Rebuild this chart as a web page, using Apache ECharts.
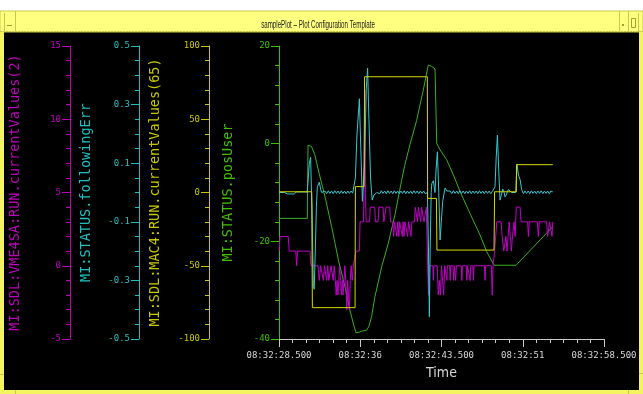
<!DOCTYPE html>
<html><head><meta charset="utf-8">
<script src="https://cdn.jsdelivr.net/npm/echarts@6.0.0/dist/echarts.min.js"></script>
<style>html,body{margin:0;padding:0;background:#fff;overflow:hidden}#c{width:643px;height:394px}</style>
</head><body><div id="c"></div><script>
// time offsets in seconds from 08:32:28.500
const xTickLabels = ['08:32:28.500', '08:32:36', '08:32:43.500', '08:32:51', '08:32:58.500'];
const xStep = 7.5;

// MI:STATUS.posUser (green, left main axis)
const posUser = [[0,-15.3],[2.61,-15.3],[2.68,-0.3],[3.0,-0.6],[3.3,-2.2],[3.63,-5.4],[4.25,-10.9],[4.86,-17.0],[5.48,-23.8],[6.09,-29.3],[6.55,-34.1],[6.9,-37.2],[7.11,-38.7],[7.4,-38.6],[7.63,-38.4],[8.09,-38.2],[8.3,-37.4],[8.55,-35.4],[8.86,-31.3],[9.48,-25.2],[10.09,-20.4],[10.71,-14.5],[11.32,-7.5],[11.6,-4.5],[12.09,-0.2],[12.71,4.8],[13.32,11.0],[13.78,16.1],[14.1,15.8],[14.4,15.3],[14.5,15.2],[14.56,0.1],[14.87,-1.3],[15.48,-3.3],[16.1,-6.4],[16.71,-9.8],[17.63,-14.3],[18.56,-18.7],[19.17,-22.1],[19.85,-24.9],[21.88,-24.9],[25.27,-17.0]];

// MI:SDL:MAC4:RUN.currentValues(65) (yellow)
const mac4 = [[0,0.5],[3.02,0.5],[3.08,-78.6],[7.02,-78.6],[7.05,4],[7.85,4],[7.9,79],[13.69,79],[13.72,-4],[14.53,-4],[14.58,-39.3],[19.85,-39.3],[19.9,0.5],[21.9,0.5],[21.93,19],[25.27,19]];

// MI:STATUS.followingErr (cyan)
const followingErr = [[0,0.0],[0.5,0.0],[0.8,-0.005],[1.4,-0.005],[1.6,0.002],[2.6,0.002],[2.66,0.03],[2.8,0.1],[2.92,0.12],[3.0,0.0],[3.05,-0.05],[3.17,-0.32],[3.25,-0.33],[3.35,-0.2],[3.45,-0.05],[3.54,0.02],[3.72,0.035],[3.85,0.01],[3.94,0.0],[4.1,-0.004],
[4.25,0.005],[4.4,-0.004],[4.55,0.006],[4.7,-0.003],[4.85,0.005],[5.0,-0.004],[5.15,0.006],[5.3,-0.003],[5.45,0.005],[5.6,-0.004],[5.75,0.006],[5.9,-0.003],[6.05,0.005],[6.2,-0.004],[6.35,0.005],[6.5,-0.003],[6.65,0.005],[6.8,-0.002],[6.92,0.0],
[7.05,0.05],[7.2,0.2],[7.42,0.32],[7.55,0.15],[7.7,-0.03],[7.78,-0.036],[7.9,0.1],[8.05,0.35],[8.18,0.425],[8.3,0.25],[8.45,0.05],[8.6,-0.026],[8.75,-0.01],[9.02,0.0],
[9.15,0.005],[9.3,-0.004],[9.45,0.006],[9.6,-0.003],[9.75,0.005],[9.9,-0.004],[10.05,0.006],[10.2,-0.003],[10.35,0.005],[10.5,-0.004],[10.65,0.006],[10.8,-0.003],[10.95,0.005],[11.1,-0.004],[11.25,0.005],[11.4,-0.003],[11.55,0.006],[11.7,-0.004],[11.85,0.005],[12.0,-0.003],[12.15,0.005],[12.3,-0.004],[12.45,0.006],[12.6,-0.003],[12.75,0.005],[12.9,-0.004],[13.05,0.005],[13.2,-0.003],[13.35,0.005],[13.5,-0.004],[13.62,0.0],
[13.7,0.0],[13.8,-0.2],[13.88,-0.424],[13.95,-0.2],[14.05,0.0],[14.1,0.03],[14.25,0.04],[14.4,0.0],[14.5,0.08],[14.62,0.139],[14.75,0.0],[14.87,-0.162],[14.98,-0.1],[15.11,-0.03],[15.33,0.015],[15.5,0.005],[15.64,0.0],
[15.8,0.005],[15.95,-0.004],[16.1,0.006],[16.25,-0.003],[16.4,0.005],[16.55,-0.004],[16.7,0.006],[16.85,-0.003],[17.0,0.005],[17.15,-0.004],[17.3,0.005],[17.45,-0.003],[17.6,0.006],[17.75,-0.004],[17.9,0.005],[18.05,-0.003],[18.2,0.005],[18.35,-0.004],[18.5,0.006],[18.65,-0.003],[18.8,0.005],[18.95,-0.004],[19.1,0.005],[19.25,-0.003],[19.4,0.005],[19.55,-0.004],[19.7,0.004],[19.85,0.0],
[19.94,0.02],[20.05,0.12],[20.16,0.196],[20.28,0.08],[20.4,-0.026],[20.52,-0.01],[20.65,0.012],[20.78,0.0],[20.87,-0.015],[21.02,-0.005],[21.17,0.01],[21.35,0.004],[21.48,0.0],[21.85,0.0],[21.97,0.096],[22.1,0.06],[22.25,0.045],[22.4,0.01],[22.56,-0.004],
[22.7,0.005],[22.85,-0.003],[23.0,0.005],[23.15,-0.004],[23.3,0.006],[23.45,-0.003],[23.6,0.005],[23.75,-0.004],[23.9,0.005],[24.05,-0.003],[24.2,0.006],[24.35,-0.004],[24.5,0.005],[24.65,-0.003],[24.8,0.005],[24.95,-0.004],[25.1,0.005],[25.27,0.002]];

// MI:SDL:VME4SA:RUN.currentValues(2) (magenta)
const vme4sa = [[0,1],[0.1,2],[0.85,2],[0.95,1],[1.55,1],[1.63,0],[1.7,1],[2.86,1],[2.95,0],
[3.6,0],[3.72,-1],[3.84,0],[4.0,0],[4.1,-1],[4.2,0],[4.4,-1],[4.5,0],[4.6,-1],[4.72,-1],[4.8,0],[5.0,-1],[5.1,0],[5.2,-1],[5.28,-2],[5.36,-1],[5.44,-2],[5.52,-1],[5.6,0],[5.68,-1],[5.76,-2],[5.84,-1],[5.92,-2],[6.0,-1],[6.08,0],[6.16,-1],[6.26,-3],[6.34,-1],[6.42,-2],[6.5,-3],[6.58,-1],[6.66,0],[6.76,-1],[6.86,0],[7.0,0],
[7.1,1],[7.42,1],[7.48,3],[7.8,3],[7.86,6],[7.92,12],[7.98,5],[8.04,3],[8.36,3],[8.42,4],[8.84,4],[8.9,3],[9.15,3],[9.22,4],[9.6,4],[9.68,3],[9.8,3],[9.88,4],[10.22,4],[10.3,3],
[10.5,3],[10.58,2],[10.66,3],[10.8,3],[10.88,2],[10.96,3],[11.06,2],[11.14,3],[11.3,3],[11.38,2],[11.46,3],[11.54,2],[11.62,3],[11.8,3],[11.88,2],[11.96,3],[12.1,3],[12.18,2],[12.26,3],[12.5,3],[12.58,4],[12.7,4],[12.78,3],[12.86,4],[13.0,4],[13.08,3],[13.16,4],[13.3,4],[13.38,3],[13.5,3],[13.6,4],[13.68,4],[13.72,0],[13.8,-2],[13.86,0],
[14.2,0],[14.25,-1],[14.3,0],[14.6,0],[14.7,-2],[14.8,-1],[14.9,-2],[15.0,0],[15.1,0],[15.2,-2],[15.3,0],[15.45,0],[15.5,-1],[15.55,0],[15.75,0],[15.8,-1],[15.85,0],[16.05,0],[16.12,-1],[16.2,0],[16.3,-1],[16.38,0],[16.82,0],[16.88,-1],[16.94,0],[17.28,0],[17.34,-1],[17.4,0],[17.58,0],[17.64,-1],[17.7,0],[17.9,0],[17.95,-1],[18.0,0],[18.96,0],[19.02,-1],[19.08,0],[19.6,0],[19.68,-2],[19.76,0],[19.85,0],
[19.9,1],[20.0,2],[20.1,3],[20.5,3],[20.6,2],[20.75,1],[20.85,1],[20.95,2],[21.05,1],[21.15,2],[21.25,3],[21.35,2],[21.45,1],[21.55,2],[21.7,3],[21.8,2],[21.9,4],[22.25,4],[22.35,3],[22.95,3],[23.02,2],[23.1,3],[23.85,3],[23.94,2],[24.02,3],[24.7,3],[24.8,2],[24.9,2],[24.98,3],[25.1,3],[25.2,2],[25.27,3]];

const axisFont = "'DejaVu Sans Mono', monospace";

function yAxis(color, min, max, interval, minorSplit, offset, name, nameGap, fmt) {
  return {
    type: 'value', position: 'left', offset: offset, min: min, max: max, interval: interval,
    name: name, nameLocation: 'middle', nameRotate: 90, nameGap: nameGap,
    nameTextStyle: { color: color, fontFamily: axisFont, fontSize: 13.5 },
    axisLine: { show: true, onZero: false, lineStyle: { color: color, width: 1 } },
    axisTick: { show: true, length: 8, lineStyle: { color: color } },
    minorTick: { show: true, splitNumber: minorSplit, length: 4, lineStyle: { color: color } },
    axisLabel: { color: color, fontFamily: axisFont, fontSize: 9, margin: 9, formatter: fmt },
    splitLine: { show: false }
  };
}

const chart = echarts.init(document.getElementById('c'), null, { renderer: 'canvas', width: 643, height: 394 });
const frame = '#c8c84a';
chart.setOption({
  animation: false,
  backgroundColor: '#000',
  grid: { left: 279, right: 39, top: 46, bottom: 55 },
  xAxis: {
    type: 'value', min: 0, max: 30, interval: xStep,
    name: 'Time', nameLocation: 'middle', nameGap: 27,
    nameTextStyle: { color: '#d8d8d8', fontFamily: "'Liberation Sans Narrow', 'DejaVu Sans Condensed', sans-serif", fontSize: 14 },
    axisLine: { onZero: false, lineStyle: { color: '#c8c8c8' } },
    axisTick: { length: 8, lineStyle: { color: '#c8c8c8' } },
    minorTick: { show: true, splitNumber: 6, length: 4, lineStyle: { color: '#c8c8c8' } },
    axisLabel: { color: '#d8d8d8', fontFamily: axisFont, fontSize: 9, margin: 12,
      formatter: v => xTickLabels[Math.round(v / xStep)] },
    splitLine: { show: false }
  },
  yAxis: [
    yAxis('#40c000', -40, 20, 20, 5, 0, 'MI:STATUS.posUser', 44, v => String(v)),
    yAxis('#c8c800', -100, 100, 50, 5, 70, 'MI:SDL:MAC4:RUN.currentValues(65)', 47, v => String(v)),
    yAxis('#20c0c0', -0.5, 0.5, 0.2, 4, 140, 'MI:STATUS.followingErr', 46, v => v.toFixed(1)),
    yAxis('#c000c0', -5, 15, 5, 5, 209, 'MI:SDL:VME4SA:RUN.currentValues(2)', 48, v => String(v))
  ],
  series: [
    { type: 'line', yAxisIndex: 0, data: posUser, showSymbol: false, symbol: 'none', lineStyle: { color: '#38b020', width: 1 } },
    { type: 'line', yAxisIndex: 3, data: vme4sa, showSymbol: false, symbol: 'none', lineStyle: { color: '#c000c8', width: 1 } },
    { type: 'line', yAxisIndex: 2, data: followingErr, showSymbol: false, symbol: 'none', lineStyle: { color: '#38c8d0', width: 1 } },
    { type: 'line', yAxisIndex: 1, data: mac4, showSymbol: false, symbol: 'none', lineStyle: { color: '#d8d800', width: 1 } }
  ],
  graphic: [
    { type: 'rect', shape: { x: 0, y: 0, width: 643, height: 11 }, style: { fill: '#fff' }, silent: true },
    { type: 'rect', shape: { x: 0, y: 11, width: 643, height: 21 }, style: { fill: '#ffff80', stroke: frame, lineWidth: 1 }, silent: true },
    { type: 'rect', shape: { x: 0, y: 32, width: 4, height: 362 }, style: { fill: '#f4f460' }, silent: true },
    { type: 'rect', shape: { x: 639, y: 32, width: 4, height: 362 }, style: { fill: '#f4f460' }, silent: true },
    { type: 'rect', shape: { x: 0, y: 390, width: 643, height: 4 }, style: { fill: '#f4f460' }, silent: true },
    { type: 'line', shape: { x1: 0, y1: 31.5, x2: 643, y2: 31.5 }, style: { stroke: frame, lineWidth: 1, lineDash: [2, 1] }, silent: true },
    { type: 'line', shape: { x1: 4.5, y1: 13, x2: 4.5, y2: 32 }, style: { stroke: frame, lineWidth: 1 }, silent: true },
    { type: 'line', shape: { x1: 15.5, y1: 11, x2: 15.5, y2: 32 }, style: { stroke: frame, lineWidth: 1 }, silent: true },
    { type: 'line', shape: { x1: 619.5, y1: 11, x2: 619.5, y2: 32 }, style: { stroke: frame, lineWidth: 1 }, silent: true },
    { type: 'line', shape: { x1: 628.5, y1: 11, x2: 628.5, y2: 32 }, style: { stroke: frame, lineWidth: 1 }, silent: true },
    { type: 'line', shape: { x1: 638.5, y1: 13, x2: 638.5, y2: 32 }, style: { stroke: frame, lineWidth: 1 }, silent: true },
    { type: 'line', shape: { x1: 7, y1: 25.5, x2: 12, y2: 25.5 }, style: { stroke: '#a0a030', lineWidth: 1 }, silent: true },
    { type: 'rect', shape: { x: 622, y: 24, width: 2, height: 2 }, style: { fill: '#a0a030' }, silent: true },
    { type: 'rect', shape: { x: 631.5, y: 18.5, width: 4, height: 9 }, style: { fill: 'none', stroke: '#a0a030', lineWidth: 1 }, silent: true },
    { type: 'line', shape: { x1: 0, y1: 374.5, x2: 4, y2: 374.5 }, style: { stroke: frame, lineWidth: 1 }, silent: true },
    { type: 'line', shape: { x1: 639, y1: 373.5, x2: 643, y2: 373.5 }, style: { stroke: frame, lineWidth: 1 }, silent: true },
    { type: 'line', shape: { x1: 15.5, y1: 390, x2: 15.5, y2: 394 }, style: { stroke: frame, lineWidth: 1 }, silent: true },
    { type: 'line', shape: { x1: 628.5, y1: 390, x2: 628.5, y2: 394 }, style: { stroke: frame, lineWidth: 1 }, silent: true },
    { type: 'text', x: 318, y: 25, scaleX: 0.62, silent: true,
      style: { text: 'samplePlot \u2013 Plot Configuration Template', fontFamily: "'Liberation Sans', Arial, sans-serif", fontSize: 10, fill: '#202020', align: 'center', verticalAlign: 'middle' } }
  ]
});
</script></body></html>
